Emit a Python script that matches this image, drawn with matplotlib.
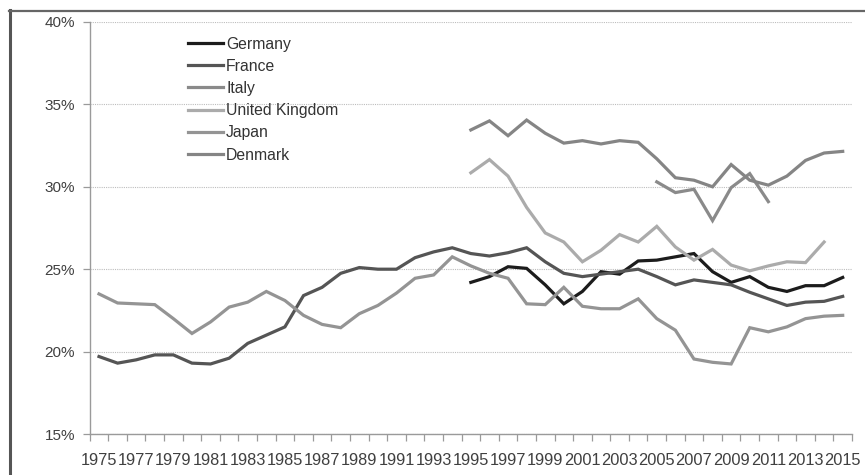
import numpy as np
import matplotlib
matplotlib.use("Agg")
import matplotlib.pyplot as plt
from matplotlib.lines import Line2D
from matplotlib.ticker import FuncFormatter, FixedLocator

plt.rcParams['font.family'] = ['Liberation Sans', 'DejaVu Sans']

years = list(range(1975, 2016))

germany = [None] * 20 + [24.2, 24.55, 25.15, 25.05, 24.05, 22.9, 23.65, 24.85, 24.7, 25.5,
                         25.55, 25.75, 25.95, 24.85, 24.2, 24.55, 23.9, 23.65, 24.0, 24.0, 24.5]
france = [19.7, 19.3, 19.5, 19.8, 19.8, 19.3, 19.25, 19.6, 20.5, 21.0,
          21.5, 23.4, 23.9, 24.75, 25.1, 25.0, 25.0, 25.7, 26.05, 26.3,
          25.95, 25.8, 26.0, 26.3, 25.45, 24.75, 24.55, 24.7, 24.85, 25.0,
          24.55, 24.05, 24.35, 24.2, 24.05, 23.6, 23.2, 22.8, 23.0, 23.05, 23.35]
italy = [None] * 30 + [30.3, 29.65, 29.85, 27.95, 29.95, 30.8, 29.1, None, None, None, None]
united_kingdom = [None] * 20 + [30.85, 31.65, 30.65, 28.75, 27.2, 26.65, 25.45, 26.15, 27.1, 26.65,
                                27.6, 26.35, 25.55, 26.2, 25.25, 24.9, 25.2, 25.45, 25.4, 26.65, None]
japan = [23.5, 22.95, 22.9, 22.85, 22.0, 21.1, 21.8, 22.7, 23.0, 23.65,
         23.1, 22.2, 21.65, 21.45, 22.3, 22.8, 23.55, 24.45, 24.65, 25.75,
         25.2, 24.75, 24.45, 22.9, 22.85, 23.9, 22.75, 22.6, 22.6, 23.2,
         22.0, 21.3, 19.55, 19.35, 19.25, 21.45, 21.2, 21.5, 22.0, 22.15, 22.2]
denmark = [None] * 20 + [33.45, 34.0, 33.1, 34.05, 33.25, 32.65, 32.8, 32.6, 32.8, 32.7,
                         31.7, 30.55, 30.4, 30.0, 31.35, 30.4, 30.1, 30.65, 31.6, 32.05, 32.15]

series = [
    ("Germany", germany, "#1c1c1c"),
    ("France", france, "#555555"),
    ("Italy", italy, "#8a8a8a"),
    ("United Kingdom", united_kingdom, "#ababab"),
    ("Japan", japan, "#949494"),
    ("Denmark", denmark, "#858585"),
]

W, H = 865, 475
fig = plt.figure(figsize=(W / 100, H / 100), dpi=100)
left, right, top, bottom = 89.7, 852.0, 22.0, 434.0
ax = fig.add_axes([left / W, 1 - bottom / H, (right - left) / W, (bottom - top) / H])

x = np.array(years, dtype=float)
for name, vals, col in series:
    y = np.array([np.nan if v is None else v for v in vals], dtype=float)
    ax.plot(x, y, color=col, lw=2.3, solid_joinstyle='miter', label=name)

ax.set_xlim(years[0] - 0.5, years[-1] + 0.5)
ax.set_ylim(15, 40)

ax.set_yticks([15, 20, 25, 30, 35, 40])
ax.yaxis.set_major_formatter(FuncFormatter(lambda v, p: f"{int(v)}%"))
ax.yaxis.grid(True, color="#bdbdbd", lw=0.8, ls=(0, (1, 1)))
ax.set_axisbelow(True)

ax.xaxis.set_major_locator(FixedLocator(years[::2]))
ax.xaxis.set_major_formatter(FuncFormatter(lambda v, p: f"{int(round(v))}"))
ax.xaxis.set_minor_locator(FixedLocator([yr - 0.5 for yr in years] + [years[-1] + 0.5]))
ax.tick_params(axis='x', which='major', length=0, pad=13.5, labelsize=11.8, labelcolor="#404040")
ax.tick_params(axis='x', which='minor', length=5, width=0.9, color="#9a9a9a")
ax.tick_params(axis='y', which='major', length=5, width=0.9, color="#9a9a9a", pad=5.5,
               labelsize=11, labelcolor="#404040")

for s in ("top", "right"):
    ax.spines[s].set_visible(False)
for s in ("left", "bottom"):
    ax.spines[s].set_color("#9a9a9a")
    ax.spines[s].set_linewidth(1.0)

leg = ax.legend(loc="upper left", bbox_to_anchor=(188 / W, 1 - 36.5 / H),
                bbox_transform=fig.transFigure, frameon=False, fontsize=11.3,
                handlelength=2.23, handletextpad=0.2, labelspacing=0.46,
                borderpad=0, borderaxespad=0)
for t in leg.get_texts():
    t.set_color("#333333")

# outer frame edges
fig.add_artist(Line2D([10 / W, 10 / W], [0, 1 - 10 / H], transform=fig.transFigure,
                      color="#555555", lw=2.2))
fig.add_artist(Line2D([9 / W, 1], [1 - 10.5 / H, 1 - 10.5 / H], transform=fig.transFigure,
                      color="#666666", lw=1.6))

fig.savefig("out.png", dpi=100)
